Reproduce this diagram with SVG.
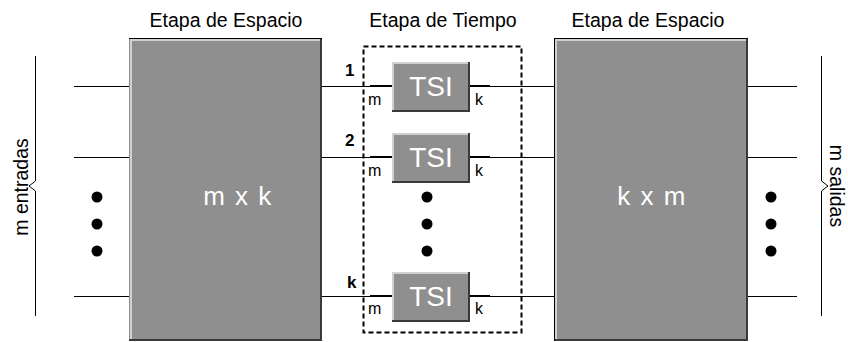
<svg xmlns="http://www.w3.org/2000/svg" width="848" height="342" viewBox="0 0 848 342">
  <style>
    text { font-family: "Liberation Sans", Arial, sans-serif; fill: #000; }
    .title { font-size: 19.5px; text-anchor: middle; }
    .big { font-size: 26px; fill: #fff; text-anchor: middle; letter-spacing: 1.5px; }
    .tsi { font-size: 28px; fill: #fff; text-anchor: middle; }
    .small { font-size: 16px; }
    .num { font-size: 17px; font-weight: bold; }
    .side { font-size: 19.5px; text-anchor: middle; }
    .wire { stroke: #000; stroke-width: 1; fill: none; }
    .stub { stroke: #000; stroke-width: 2; }
    .block { fill: #8f8f8f; }
    .hi { stroke: #d0d0d0; stroke-width: 2; fill: none; }
    .lo { stroke: #3a3a3a; stroke-width: 2; fill: none; }
    .dot { fill: #000; }
  </style>

  <!-- stage titles -->
  <text class="title" x="226" y="27">Etapa de Espacio</text>
  <text class="title" x="443" y="27">Etapa de Tiempo</text>
  <text class="title" x="648" y="27">Etapa de Espacio</text>

  <g id="connectors">
    <!-- inputs -->
    <line class="wire" x1="74" y1="86.5" x2="129" y2="86.5"/>
    <line class="wire" x1="74" y1="157.5" x2="129" y2="157.5"/>
    <line class="wire" x1="74" y1="296.5" x2="129" y2="296.5"/>
    <!-- space stage to TSI -->
    <line class="wire" x1="322" y1="86.5" x2="392" y2="86.5"/>
    <line class="wire" x1="322" y1="157.5" x2="392" y2="157.5"/>
    <line class="wire" x1="322" y1="296.5" x2="392" y2="296.5"/>
    <!-- TSI to space stage -->
    <line class="wire" x1="470" y1="86.5" x2="554" y2="86.5"/>
    <line class="wire" x1="470" y1="157.5" x2="554" y2="157.5"/>
    <line class="wire" x1="470" y1="296.5" x2="554" y2="296.5"/>
    <!-- outputs -->
    <line class="wire" x1="748" y1="86.5" x2="797" y2="86.5"/>
    <line class="wire" x1="748" y1="157.5" x2="797" y2="157.5"/>
    <line class="wire" x1="748" y1="296.5" x2="797" y2="296.5"/>
    <!-- short heavy stubs next to the TSI blocks -->
    <line class="stub" x1="370" y1="86" x2="392" y2="86"/>
    <line class="stub" x1="470" y1="86" x2="490" y2="86"/>
    <line class="stub" x1="370" y1="157" x2="392" y2="157"/>
    <line class="stub" x1="470" y1="157" x2="490" y2="157"/>
    <line class="stub" x1="370" y1="296" x2="392" y2="296"/>
    <line class="stub" x1="470" y1="296" x2="490" y2="296"/>
  </g>

  <!-- input brace -->
  <g id="brace-in">
    <polyline class="wire" points="35.5,56 35.5,181 29,186 35.5,191 35.5,316"/>
    <text class="side" transform="translate(28,187) rotate(-90)">m entradas</text>
  </g>

  <!-- output brace -->
  <g id="brace-out">
    <polyline class="wire" points="821.5,56 821.5,181 828,186 821.5,191 821.5,316"/>
    <text class="side" transform="translate(830,186) rotate(90)">m salidas</text>
  </g>

  <!-- first space stage -->
  <g id="space-in">
    <rect class="block" x="129" y="38" width="193" height="303"/>
    <polyline class="hi" points="131,341 131,40 320,40"/>
    <polyline class="lo" points="321,38 321,340 129,340"/>
    <line x1="129" y1="38.5" x2="322" y2="38.5" stroke="#000" stroke-width="1"/>
    <text class="big" x="238" y="205">m x k</text>
  </g>

  <!-- second space stage -->
  <g id="space-out">
    <rect class="block" x="554" y="38" width="194" height="303"/>
    <polyline class="hi" points="556,341 556,40 746,40"/>
    <polyline class="lo" points="747,38 747,340 554,340"/>
    <line x1="554" y1="38.5" x2="748" y2="38.5" stroke="#000" stroke-width="1"/>
    <line x1="554.5" y1="38" x2="554.5" y2="341" stroke="#000" stroke-width="1"/>
    <text class="big" x="652" y="205">k x m</text>
  </g>

  <!-- time stage boundary -->
  <g id="time-stage">
    <rect x="363.5" y="46.5" width="158" height="286" fill="none" stroke="#000" stroke-width="2" stroke-dasharray="5,3"/>
  </g>

  <!-- TSI 1 -->
  <g id="tsi-1">
    <rect class="block" x="392" y="62" width="78" height="50"/>
    <polyline class="hi" points="393,111 393,63 469,63"/>
    <polyline class="lo" points="469,62 469,111 392,111"/>
    <text class="tsi" x="431" y="96">TSI</text>
    <text class="num" x="345" y="76">1</text>
    <text class="small" x="368" y="105">m</text>
    <text class="small" x="475" y="105">k</text>
  </g>

  <!-- TSI 2 -->
  <g id="tsi-2">
    <rect class="block" x="392" y="133" width="78" height="50"/>
    <polyline class="hi" points="393,182 393,134 469,134"/>
    <polyline class="lo" points="469,133 469,182 392,182"/>
    <text class="tsi" x="431" y="167">TSI</text>
    <text class="num" x="345" y="146">2</text>
    <text class="small" x="368" y="176">m</text>
    <text class="small" x="475" y="176">k</text>
  </g>

  <!-- TSI k -->
  <g id="tsi-k">
    <rect class="block" x="392" y="272" width="78" height="50"/>
    <polyline class="hi" points="393,321 393,273 469,273"/>
    <polyline class="lo" points="469,272 469,321 392,321"/>
    <text class="tsi" x="431" y="306">TSI</text>
    <text class="num" x="347" y="288">k</text>
    <text class="small" x="368" y="314">m</text>
    <text class="small" x="475" y="314">k</text>
  </g>

  <!-- ellipsis dots -->
  <g id="dots">
    <circle class="dot" cx="97" cy="197" r="5.5"/>
    <circle class="dot" cx="97" cy="224" r="5.5"/>
    <circle class="dot" cx="97" cy="251" r="5.5"/>
    <circle class="dot" cx="427" cy="197" r="5.5"/>
    <circle class="dot" cx="427" cy="224" r="5.5"/>
    <circle class="dot" cx="427" cy="251" r="5.5"/>
    <circle class="dot" cx="771" cy="197" r="5.5"/>
    <circle class="dot" cx="771" cy="224" r="5.5"/>
    <circle class="dot" cx="771" cy="251" r="5.5"/>
  </g>
</svg>
